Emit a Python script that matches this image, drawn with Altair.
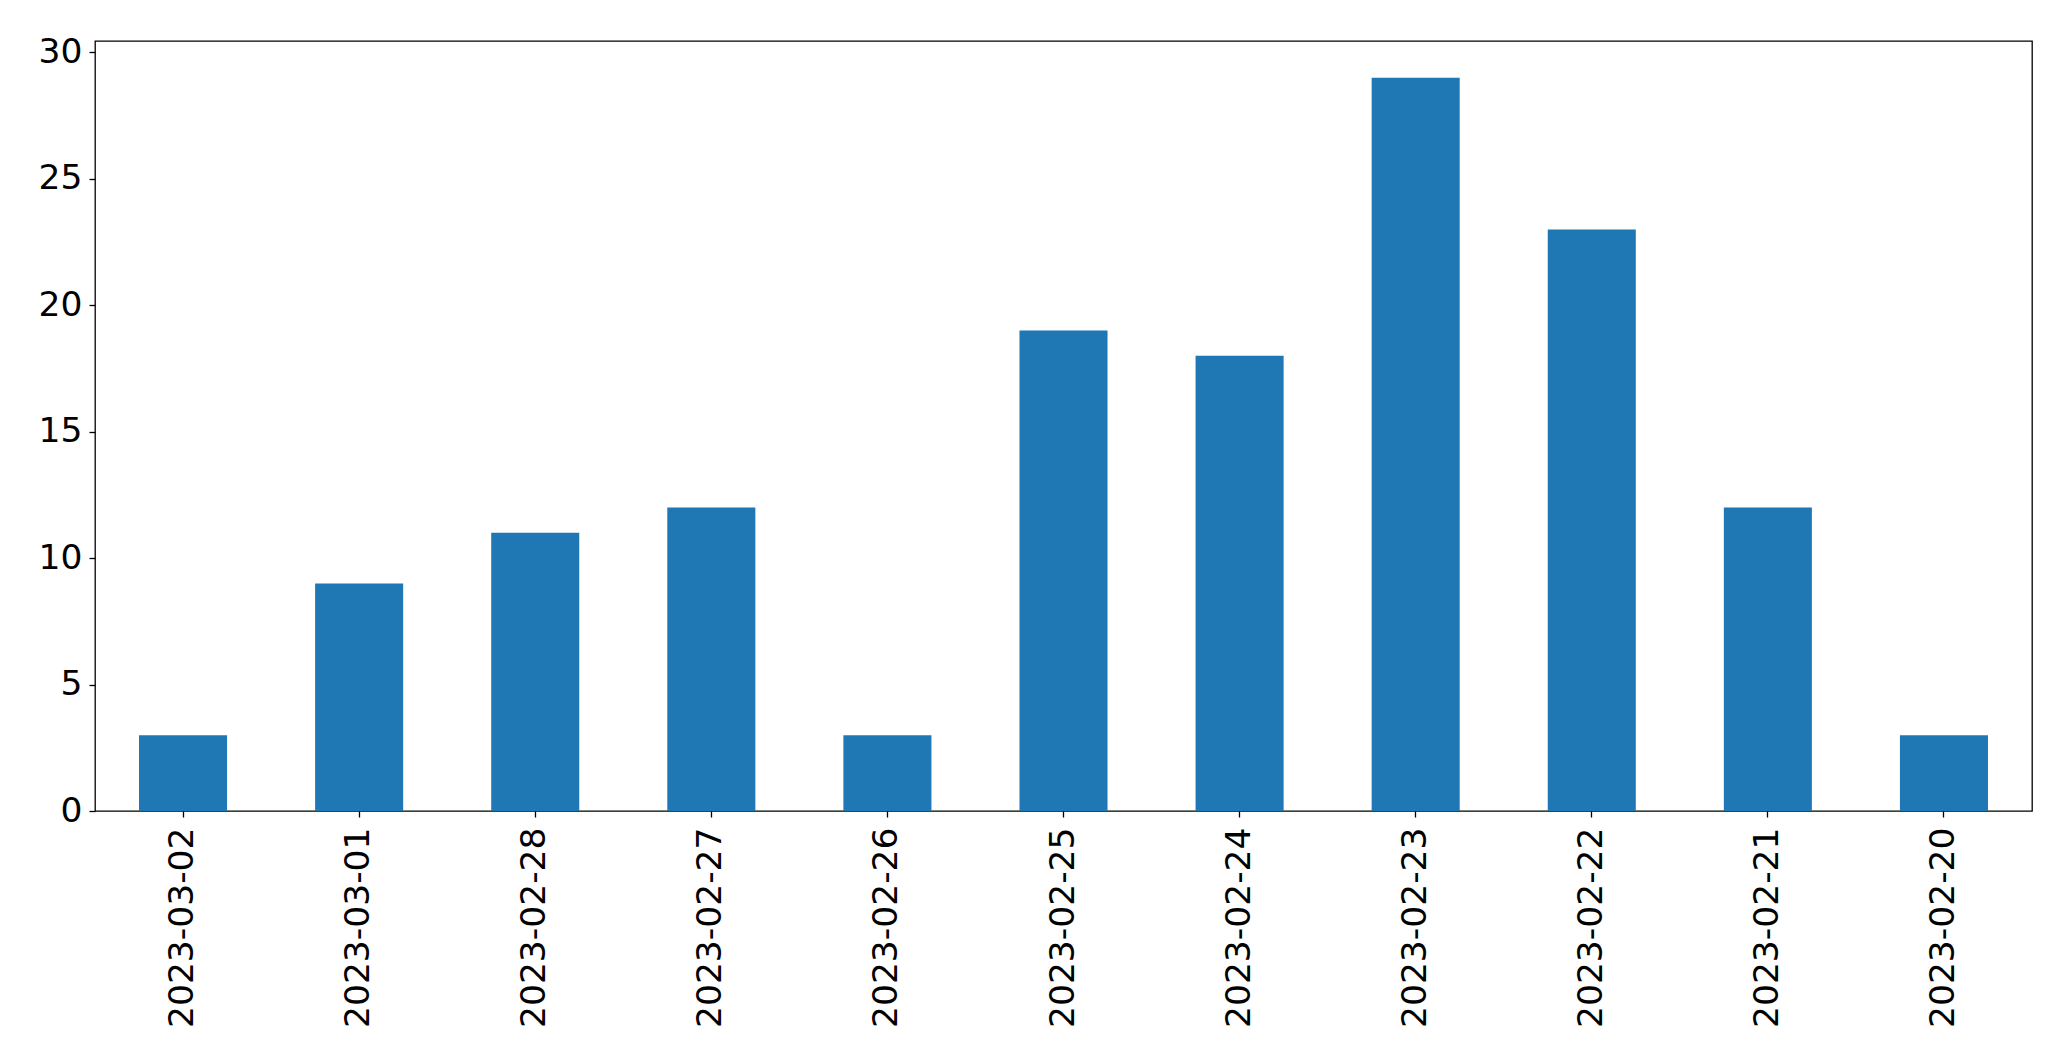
import altair as alt
import pandas as pd

dates = ["2023-03-02", "2023-03-01", "2023-02-28", "2023-02-27", "2023-02-26",
         "2023-02-25", "2023-02-24", "2023-02-23", "2023-02-22", "2023-02-21", "2023-02-20"]
counts = [3, 9, 11, 12, 3, 19, 18, 29, 23, 12, 3]

df = pd.DataFrame({"date": dates, "count": counts})

chart = alt.Chart(df).mark_bar(color="#1f77b4").encode(
    x=alt.X("date:N", sort=None, title=None,
            scale=alt.Scale(paddingInner=0.5, paddingOuter=0.25),
            axis=alt.Axis(labelAngle=-90, labelFontSize=34.5, labelFont="DejaVu Sans",
                          labelColor="black", tickColor="black", tickSize=6, tickWidth=1.3,
                          labelPadding=10, labelLimit=0, domain=False, grid=False)),
    y=alt.Y("count:Q", title=None,
            scale=alt.Scale(domain=[0, 30.45], nice=False, zero=True),
            axis=alt.Axis(values=[0, 5, 10, 15, 20, 25, 30], labelFontSize=34.5,
                          labelFont="DejaVu Sans", labelColor="black", tickColor="black",
                          tickSize=6, tickWidth=1.3, labelPadding=7, domain=False, grid=False)),
).properties(
    width=1937, height=770,
    autosize=alt.AutoSizeParams(type="none"),
    padding={"left": 95, "top": 41, "right": 39, "bottom": 252},
    background="white",
).configure_view(stroke="black", strokeWidth=1.3)

chart.save("out.html", embed_options={"renderer": "svg", "actions": False})
